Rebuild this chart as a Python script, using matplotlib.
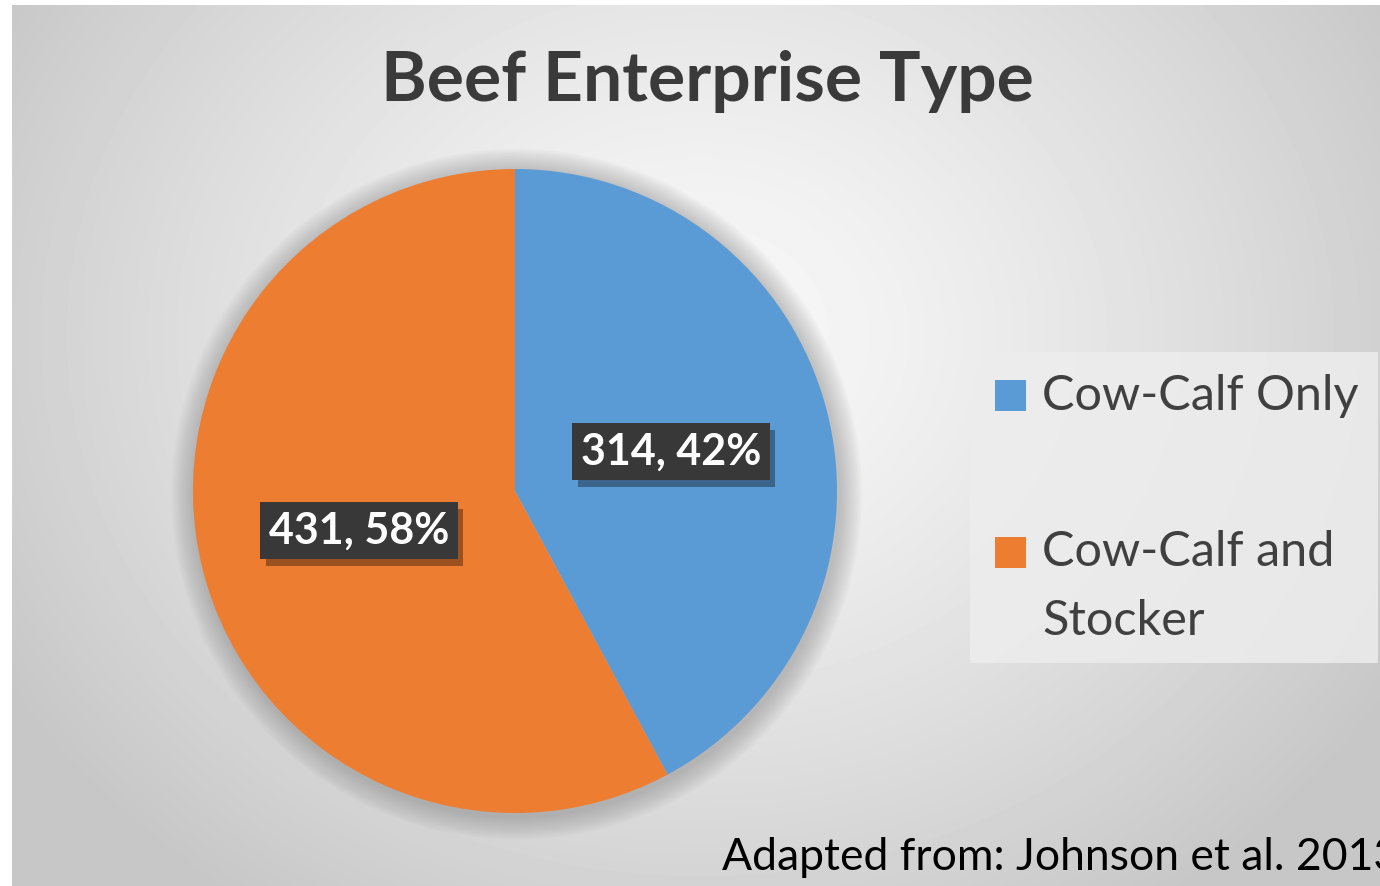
"""Beef enterprise type pie chart."""
import numpy as np
from matplotlib import pyplot as plt
from matplotlib import patheffects
from matplotlib.patches import Circle, Rectangle

categories = ['Cow-Calf Only', 'Cow-Calf and\nStocker']
counts = [314, 431]
percents = [42, 58]
colors = ['#5b9bd5', '#ed7d31']

W, H = 1380, 886
FONT = ['Lato', 'DejaVu Sans']
fig = plt.figure(figsize=(W / 100, H / 100), dpi=100)
fig.patch.set_facecolor('white')


def fx(px):
    """Pixel x to figure fraction."""
    return px / W


def fy(py):
    """Pixel y (from top) to figure fraction."""
    return 1 - py / H


# background: soft radial gradient, white band top/left
bg = fig.add_axes([fx(12), 0, 1 - fx(12), 1 - 5 / H])
yy, xx = np.mgrid[0:H - 5, 12:W]
dist = np.sqrt(((xx - 700) / 820.0) ** 2 + ((yy - 330) / 700.0) ** 2)
shade = np.clip(0.975 - 0.2 * dist ** 1.3, 0.78, 1.0)
bg.imshow(shade, cmap='gray', vmin=0, vmax=1, aspect='auto',
          interpolation='bilinear')
bg.set_axis_off()

ax = fig.add_axes([fx(193), 73 / H, 644 / W, 644 / H])

# soft halo around the pie
for i in range(12):
    ax.add_patch(Circle((0.005, -0.01), 1.0 + 0.006 * (i + 1),
                        color='#7a7a7a', alpha=0.04, lw=0, zorder=0,
                        clip_on=False))

labels = [f'{c}, {p}%' for c, p in zip(counts, percents)]
wedges, texts = ax.pie(counts, colors=colors, startangle=90,
                       counterclock=False, labels=labels,
                       labeldistance=0.5, radius=1.0,
                       wedgeprops=dict(linewidth=0, zorder=2))
ax.set_xlim(-1, 1)
ax.set_ylim(-1, 1)

for t in texts:
    t.set_ha('center')
    t.set_va('center')
    t.set_color('white')
    t.set_fontsize(31)
    t.set_fontweight('bold')
    t.set_family(FONT)
    t.set_zorder(5)
    t.set_bbox(dict(boxstyle='square,pad=0.2', fc='#383838', ec='none'))
    t.get_bbox_patch().set_path_effects([
        patheffects.SimplePatchShadow(offset=(4, -5), shadow_rgbFace='k',
                                      alpha=0.35),
        patheffects.Normal()])

# legend panel, squares aligned with the first line of each label
fig.patches.append(Rectangle((fx(970), fy(663)), fx(1378) - fx(970),
                             fy(352) - fy(663), transform=fig.transFigure,
                             fc='#ededed', ec='none', alpha=0.85))
leg_tops = [380, 537]
line_px = 68
for wedge, name, top in zip(wedges, categories, leg_tops):
    fig.patches.append(Rectangle((fx(995), fy(top + 31)), 31 / W, 31 / H,
                                 transform=fig.transFigure,
                                 fc=wedge.get_facecolor(), ec='none'))
    last_base = top + 30 + (name.count('\n')) * line_px
    fig.text(fx(1042), fy(last_base), name, ha='left', va='baseline',
             fontsize=35, color='#404040', family=FONT, linespacing=1.7)

fig.text(fx(707), fy(101), 'Beef Enterprise Type', ha='center',
         va='baseline', fontsize=50, fontweight='bold', color='#3a3a3a',
         family=FONT)
fig.text(fx(722), fy(870), 'Adapted from: Johnson et al. 2013',
         ha='left', va='baseline', fontsize=32, color='black',
         family=FONT)

fig.savefig('out.png', dpi=100)
